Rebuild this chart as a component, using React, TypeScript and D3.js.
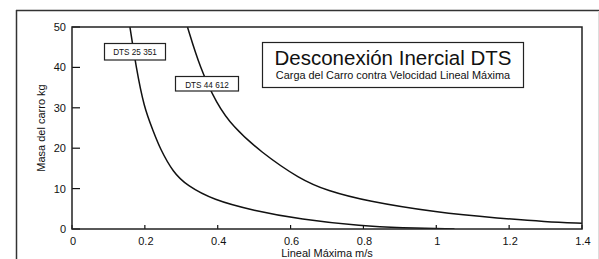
import React from 'react';
import * as d3 from 'd3';

// velocidad (m/s) vs masa (kg)
const dts25351X = [0.159, 0.176, 0.198, 0.222, 0.242, 0.278, 0.315, 0.388, 0.497, 0.626, 0.8, 0.9, 1.05];
const dts25351Y = [50, 40, 30, 24.5, 19.8, 14, 10.8, 7.2, 4.6, 2.4, 0.7, 0.3, 0];

const dts44612X = [0.317, 0.351, 0.397, 0.442, 0.516, 0.626, 0.7, 0.809, 1.0, 1.175, 1.3, 1.4];
const dts44612Y = [50, 40, 31, 25.3, 19.2, 12.3, 9.5, 6.9, 4.1, 2.65, 1.8, 1.45];

const xTicks = [0, 0.2, 0.4, 0.6, 0.8, 1, 1.2, 1.4];
const yTicks = [0, 10, 20, 30, 40, 50];

const title = 'Desconexión Inercial DTS';
const subtitle = 'Carga del Carro contra Velocidad Lineal Máxima';
const xLabel = 'Lineal Máxima m/s';
const yLabel = 'Masa del carro kg';

const FONT = '"Liberation Sans", Arial, Helvetica, sans-serif';

export default function App() {
  const W = 599;
  const H = 259;
  const left = 72, right = 582, top = 27, bottom = 229;

  const x = d3.scaleLinear().domain([0, 1.4]).range([left, right]);
  const y = d3.scaleLinear().domain([0, 50]).range([bottom, top]);

  const line = d3
    .line<[number, number]>()
    .x((d) => x(d[0]))
    .y((d) => y(d[1]))
    .curve(d3.curveBasis);

  const curveA = dts25351X.map((v, i) => [v, dts25351Y[i]] as [number, number]);
  const curveB = dts44612X.map((v, i) => [v, dts44612Y[i]] as [number, number]);

  return (
    <svg
      width={W}
      height={H}
      style={{ position: 'absolute', left: 0, top: 0, background: '#fff' }}
      fontFamily={FONT}
    >
      {/* marco exterior */}
      <line x1={16.5} y1={10} x2={16.5} y2={H} stroke="#333" strokeWidth={1.5} />
      <line x1={16} y1={10.5} x2={W} y2={10.5} stroke="#333" strokeWidth={1.3} />
      <line x1={598.5} y1={11} x2={598.5} y2={H} stroke="#ddd" strokeWidth={1} />

      <clipPath id="plot">
        <rect x={left} y={top} width={right - left} height={bottom - top} />
      </clipPath>

      {/* curvas */}
      <g clipPath="url(#plot)" fill="none" stroke="#111" strokeWidth={1.5}>
        <path d={line(curveA) || ''} />
        <path d={line(curveB) || ''} />
      </g>

      {/* ticks */}
      {yTicks.map((t) => (
        <g key={'y' + t}>
          <line x1={left} x2={left + 8} y1={y(t)} y2={y(t)} stroke="#111" strokeWidth={1.2} />
          <text x={66} y={y(t)} dy="0.36em" textAnchor="end" fontSize={11} fill="#111">
            {t}
          </text>
        </g>
      ))}
      {xTicks.map((t) => (
        <g key={'x' + t}>
          <line x1={x(t)} x2={x(t)} y1={bottom} y2={bottom - 4} stroke="#111" strokeWidth={1.2} />
          <text x={x(t) + 1} y={245} textAnchor="middle" fontSize={11} fill="#111">
            {t}
          </text>
        </g>
      ))}

      {/* caja del grafico */}
      <rect
        x={left}
        y={top}
        width={right - left}
        height={bottom - top}
        fill="none"
        stroke="#222"
        strokeWidth={1.5}
      />

      {/* etiquetas de ejes */}
      <text x={(left + right) / 2} y={257} textAnchor="middle" fontSize={11} fill="#111">
        {xLabel}
      </text>
      <text
        transform={`translate(45,${(top + bottom) / 2}) rotate(-90)`}
        textAnchor="middle"
        fontSize={11}
        fill="#111"
      >
        {yLabel}
      </text>

      {/* titulo */}
      <rect x={262.5} y={42.5} width={261} height={45} fill="#fff" stroke="#222" strokeWidth={1.2} />
      <text x={393} y={65} textAnchor="middle" fontSize={20.5} fill="#111">
        {title}
      </text>
      <text x={393} y={79} textAnchor="middle" fontSize={10.9} fill="#111">
        {subtitle}
      </text>

      {/* etiquetas de curvas */}
      <rect x={104.5} y={43.5} width={61} height={16.5} fill="#fff" stroke="#222" strokeWidth={1.2} />
      <text x={135} y={55} textAnchor="middle" fontSize={8.2} fill="#111">
        DTS 25 351
      </text>
      <rect x={175.5} y={76.5} width={63} height={14.5} fill="#fff" stroke="#222" strokeWidth={1.2} />
      <text x={207} y={87.5} textAnchor="middle" fontSize={8.2} fill="#111">
        DTS 44 612
      </text>
    </svg>
  );
}
